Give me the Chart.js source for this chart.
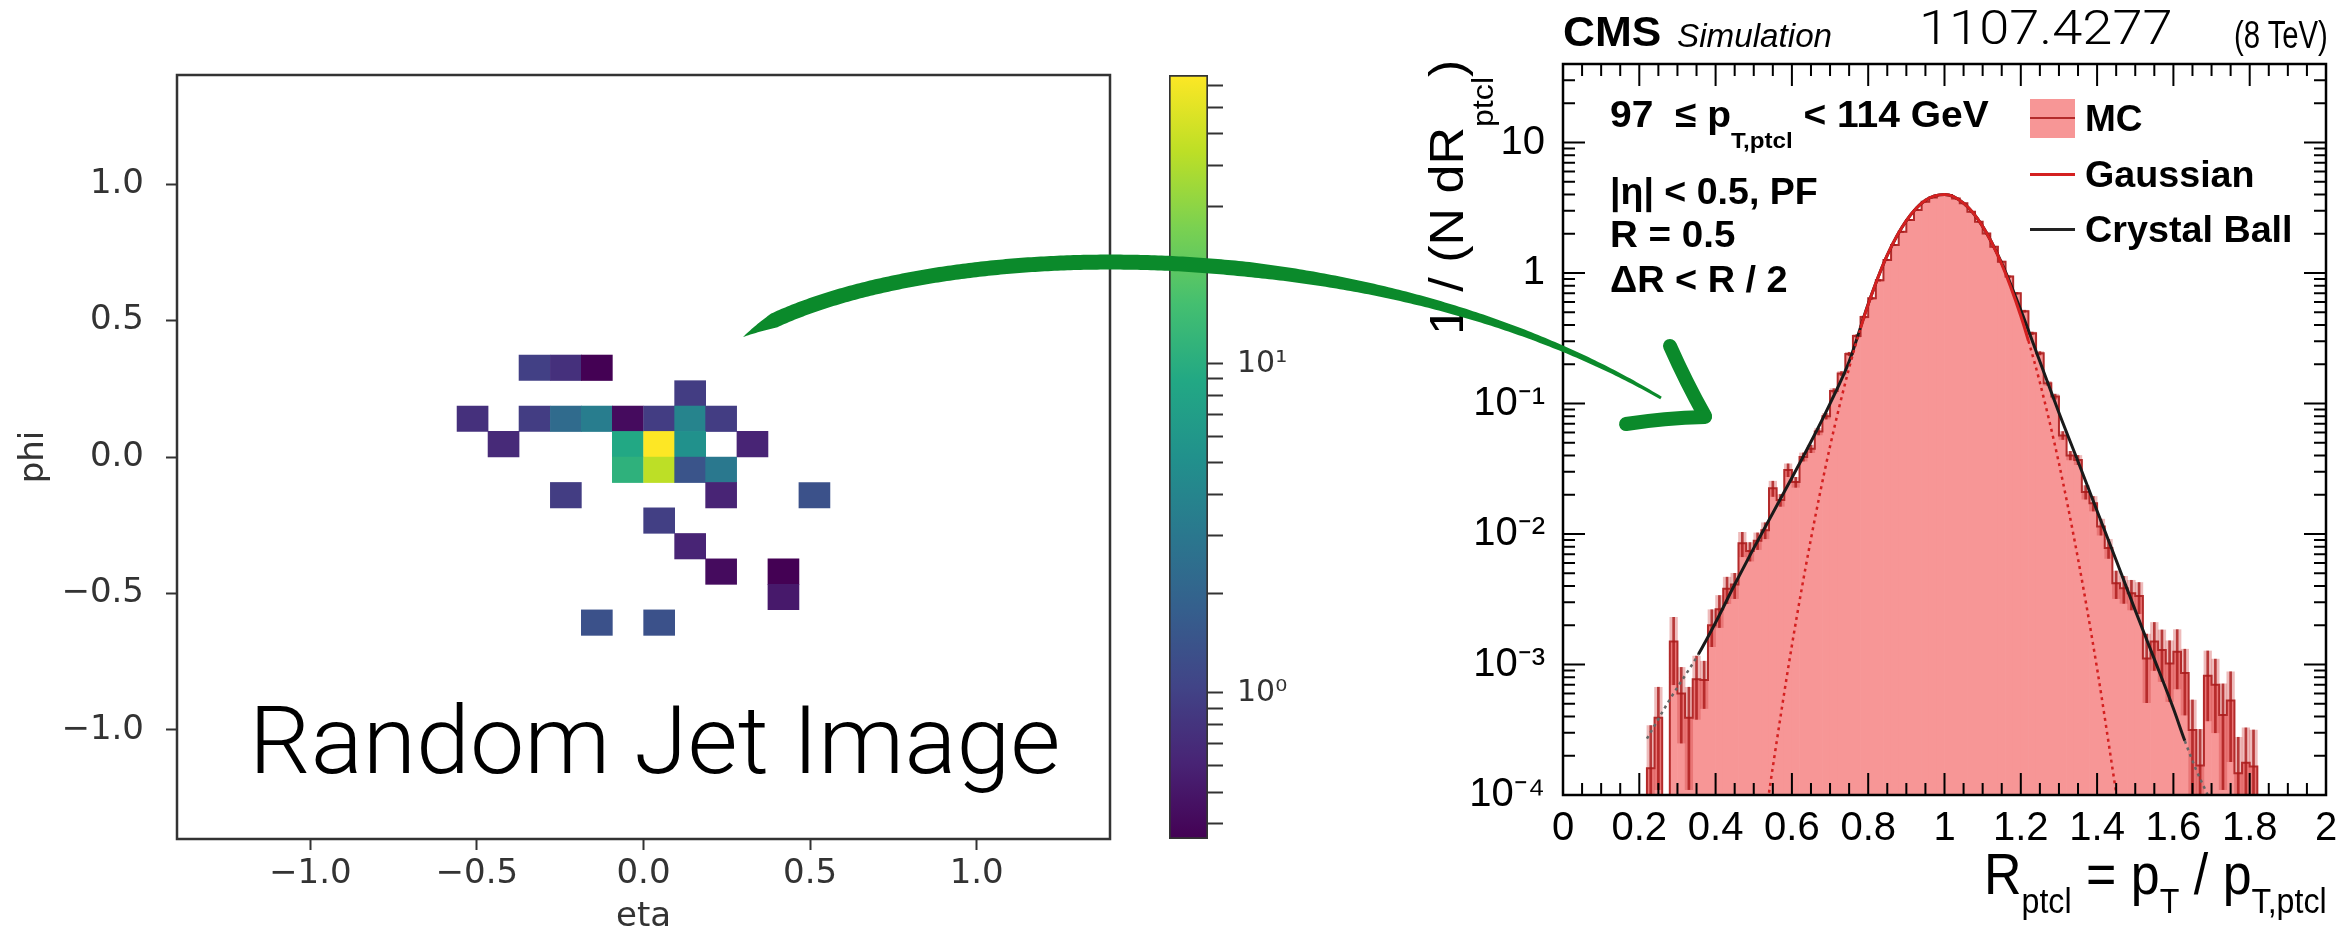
<!DOCTYPE html>
<html>
<head>
<meta charset="utf-8">
<script src="https://cdn.jsdelivr.net/npm/chart.js@4.4.0/dist/chart.umd.min.js"></script>
<style>
  html, body { margin: 0; padding: 0; background: #fff; }
  #page { position: relative; width: 2349px; height: 942px; overflow: hidden; background: #fff; }
  canvas { position: absolute; top: 0; }
  .txt { position: absolute; line-height: 1; white-space: nowrap; color: #000; transform-origin: 0 0; z-index: 5; }
  .root { font-family: 'Liberation Sans', Arial, Helvetica, sans-serif; }
  .b { font-weight: bold; }
  .thin { font-family: Roboto, Lato, 'Open Sans', sans-serif; font-weight: 300; }
  .sub { font-size: 0.62em; position: relative; top: 0.9em; }
  .sw { position: absolute; z-index: 5; }
</style>
</head>
<body>
<div id="page">
  <canvas id="heat" width="1150" height="942" style="left:0"></canvas>
  <canvas id="cbar" width="200" height="942" style="left:1150px"></canvas>
  <canvas id="resp" width="969" height="942" style="left:1380px"></canvas>

  <div class="txt thin" data-x="249" data-b="774" data-s="95" data-w="811">Random Jet Image</div>
  <div class="txt thin" data-x="1919" data-b="45" data-s="48" data-w="253">1107.4277</div>
  <div class="txt root b" data-x="1563" data-b="47" data-s="42" data-w="98">CMS</div>
  <div class="txt root" style="font-style:italic" data-x="1677" data-b="47" data-s="33" data-w="155">Simulation</div>
  <div class="txt root" data-x="2234" data-b="48" data-s="38" data-w="94">(8 TeV)</div>

  <div class="txt root b" data-x="1610" data-b="127" data-s="37" data-w="379">97&nbsp; ≤ p<span class="sub" style="top:0.95em">T,ptcl</span> &lt; 114 GeV</div>
  <div class="txt root b" data-x="1610" data-b="204" data-s="37" data-w="208">|η| &lt; 0.5, PF</div>
  <div class="txt root b" data-x="1610" data-b="247" data-s="37" data-w="125">R = 0.5</div>
  <div class="txt root b" data-x="1610" data-b="292" data-s="37" data-w="178">ΔR &lt; R / 2</div>

  <div class="sw" style="left:2030px;top:99px;width:45px;height:39px;background:#f79696"></div>
  <div class="sw" style="left:2030px;top:117px;width:45px;height:2px;background:#b32a2a"></div>
  <div class="sw" style="left:2030px;top:173px;width:45px;height:3px;background:#d42020"></div>
  <div class="sw" style="left:2030px;top:228px;width:45px;height:3px;background:#222"></div>
  <div class="txt root b" data-x="2085" data-b="131" data-s="37" data-w="58">MC</div>
  <div class="txt root b" data-x="2085" data-b="187" data-s="37" data-w="170">Gaussian</div>
  <div class="txt root b" data-x="2085" data-b="242" data-s="37" data-w="208">Crystal Ball</div>

  <div class="txt root" data-x="1984" data-b="894" data-s="58" data-w="343">R<span class="sub" style="top:0.55em">ptcl</span> = p<span class="sub" style="top:0.55em">T</span> / p<span class="sub" style="top:0.55em">T,ptcl</span></div>
  <div class="txt root" data-x="1464" data-b="335" data-s="48" data-w="275" data-rot="1">1 / (N dR<span class="sub" style="top:1em">ptcl</span>)</div>

  <canvas id="arrow" width="2349" height="942" style="left:0;z-index:10;pointer-events:none"></canvas>
</div>

<script>
Chart.defaults.font.family = "'DejaVu Sans', sans-serif";

// ---- jet image: pixels of a 30x30 grid over eta, phi in [-1.4, 1.4] ----
const cellEta = [-0.327, -0.233, -0.140, 0.140, -0.513, -0.327, -0.233, -0.140, -0.047, 0.047, 0.140, 0.233,
  -0.420, -0.047, 0.047, 0.140, 0.327, -0.047, 0.047, 0.140, 0.233, -0.233, 0.233, 0.513,
  0.047, 0.140, 0.233, 0.420, 0.420, -0.140, 0.047];
const cellPhi = [0.327, 0.327, 0.327, 0.233, 0.140, 0.140, 0.140, 0.140, 0.140, 0.140, 0.140, 0.140,
  0.047, 0.047, 0.047, 0.047, 0.047, -0.047, -0.047, -0.047, -0.047, -0.140, -0.140, -0.140,
  -0.233, -0.327, -0.420, -0.420, -0.513, -0.607, -0.607];
const cellPt = [0.98, 0.75, 0.36, 0.93, 0.75, 0.93, 2.32, 3.37, 0.42, 0.93, 3.96, 0.93,
  0.68, 8.85, 75.5, 5.18, 0.61, 11.0, 44.2, 1.43, 3.03, 0.93, 0.61, 1.36,
  0.96, 0.61, 0.42, 0.36, 0.52, 1.36, 1.36];
const etaTicks = [-1, -0.5, 0, 0.5, 1];
const phiTicks = [-1, -0.5, 0, 0.5, 1];
const cbarTicks = [0.4, 0.5, 0.6, 0.7, 0.8, 0.9, 1, 2, 3, 4, 5, 6, 7, 8, 9, 10, 20, 30, 40, 50, 60, 70];
const cbarLabelAt = [1, 10];
const cbarLabels = ['10\u2070', '10\u00b9'];

// ---- response histogram, bins of 0.02 starting at 0.22 ----
const histStart = 0.22;
const binW = 0.02;
const histValues = [
  1.6e-4, 3.9e-4, null, 1.5e-3, 6.0e-4, 3.9e-4, 7.7e-4, 7.6e-4, 2.0e-3, 2.65e-3,
  3.8e-3, 4.1e-3, 8.5e-3, 7.4e-3, 8.9e-3, 1.07e-2, 2.24e-2, 1.82e-2, 3.1e-2, 2.5e-2,
  3.9e-2, 4.5e-2, 6.1e-2, 8.0e-2, 0.125,
  0.17, 0.24, 0.33, 0.46, 0.64, 0.88, 1.26, 1.64, 2.07, 2.55,
  3.04, 3.52, 3.80, 3.96, 3.96, 3.73, 3.42, 2.95, 2.47, 2.01,
  1.59, 1.22, 0.94, 0.70, 0.51, 0.345, 0.243,
  0.143, 0.113, 0.057, 0.040, 0.037, 0.021, 0.0172, 0.0114, 0.0078, 0.0042,
  3.84e-3, 3.52e-3, 3.35e-3, 1.11e-3, 1.5e-3, 1.29e-3, 1.02e-3, 1.25e-3, 8.6e-4, 3.15e-4,
  1.68e-4, 8.2e-4, 7.0e-4, 4.1e-4, 5.3e-4, 1.47e-4, 1.77e-4, 1.65e-4
];
const histErr = [
  1.8e-4, 2.8e-4, 0, 8e-4, 3.5e-4, 2.8e-4, 3.9e-4, 3.0e-4, 6.3e-4, 7.3e-4,
  8.7e-4, 9e-4, 1.8e-3, 1.2e-3, 1.3e-3, 1.5e-3, 3e-3, 1.9e-3, 3.5e-3, 2.2e-3,
  2.8e-3, 3e-3, 3.5e-3, 4e-3, 5e-3,
  0.006, 0.007, 0.008, 0.009, 0.011, 0.013, 0.015, 0.017, 0.019, 0.021,
  0.023, 0.025, 0.026, 0.027, 0.027, 0.026, 0.025, 0.023, 0.021, 0.019,
  0.017, 0.015, 0.013, 0.011, 0.009, 0.008, 0.007,
  5e-3, 5e-3, 4e-3, 3e-3, 3e-3, 2.5e-3, 2.2e-3, 1.6e-3, 1.3e-3, 1e-3,
  9e-4, 9e-4, 9e-4, 6e-4, 6e-4, 5.5e-4, 5e-4, 6e-4, 4.5e-4, 2.2e-4,
  1.5e-4, 4.5e-4, 4e-4, 3e-4, 3.5e-4, 1.3e-4, 1.5e-4, 1.5e-4
];
const gausX = [0.54, 0.55, 0.60, 0.65, 0.70, 0.75, 0.78, 0.80, 0.85, 0.90, 0.95, 1.00, 1.05, 1.10, 1.15, 1.20, 1.22, 1.25, 1.30, 1.35, 1.40, 1.45];
const gausY = [1.04e-4, 1.64e-4, 1.40e-3, 9.2e-3, 0.047, 0.187, 0.378, 0.575, 1.37, 2.52, 3.61, 4.0, 3.43, 2.28, 1.17, 0.469, 0.302, 0.145, 0.0348, 0.00645, 9.3e-4, 1.04e-4];
const gausRange = [0.78, 1.22];
const cbX = [0.22, 0.28, 0.355, 0.40, 0.45, 0.50, 0.55, 0.60, 0.65, 0.70, 0.75, 0.80, 0.85, 0.90, 0.95, 1.00, 1.05, 1.10, 1.15, 1.20, 1.25, 1.30, 1.35, 1.40, 1.45, 1.50, 1.55, 1.60, 1.63, 1.66, 1.69];
const cbY = [2.7e-4, 5.4e-4, 1.2e-3, 2.1e-3, 4.1e-3, 7.8e-3, 1.45e-2, 2.7e-2, 5.1e-2, 0.10, 0.21, 0.58, 1.37, 2.52, 3.61, 4.0, 3.43, 2.28, 1.19, 0.52, 0.21, 0.085, 0.036, 0.015, 6.3e-3, 2.6e-3, 1.1e-3, 4.6e-4, 2.6e-4, 1.55e-4, 1.0e-4];
const cbRange = [0.355, 1.63];
const xTickVals = [0, 0.2, 0.4, 0.6, 0.8, 1, 1.2, 1.4, 1.6, 1.8, 2];
const xTickLabels = ['0', '0.2', '0.4', '0.6', '0.8', '1', '1.2', '1.4', '1.6', '1.8', '2'];
const yTickVals = [1e-4, 1e-3, 1e-2, 1e-1, 1, 10];
const yTickLabels = ['10\u207b\u2074', '10\u207b\u00b3', '10\u207b\u00b2', '10\u207b\u00b9', '1', '10'];

// viridis colour map
const viridisStops = ['#440154', '#482475', '#414487', '#355f8d', '#2a788e', '#21918c', '#22a884', '#44bf70', '#7ad151', '#bddf26', '#fde725'];
function hexRgb(h) { return [1, 3, 5].map(i => parseInt(h.substr(i, 2), 16)); }
function viridis(t) {
  t = Math.min(1, Math.max(0, t));
  const p = t * 10, i = Math.min(9, Math.floor(p)), f = p - i;
  const a = hexRgb(viridisStops[i]), b = hexRgb(viridisStops[i + 1]);
  return 'rgb(' + a.map((c, k) => Math.round(c + (b[k] - c) * f)).join(',') + ')';
}
const vmin = Math.min(...cellPt), vmax = Math.max(...cellPt);
const lnorm = v => (Math.log10(v) - Math.log10(vmin)) / (Math.log10(vmax) - Math.log10(vmin));
const pix = 2.8 / 30;
const fmtTick = v => (v < 0 ? '\u2212' : '') + Math.abs(v).toFixed(1);

const heatFrame = {
  id: 'heatFrame',
  afterDatasetsDraw(chart) {
    const { ctx, chartArea: a } = chart;
    ctx.save();
    ctx.strokeStyle = '#333';
    ctx.lineWidth = 2.5;
    ctx.strokeRect(a.left, a.top, a.right - a.left, a.bottom - a.top);
    ctx.restore();
  }
};

new Chart(document.getElementById('heat'), {
  type: 'bar',
  data: {
    datasets: [{
      data: cellEta.map((e, i) => ({ x: e, y: [cellPhi[i] - pix / 2, cellPhi[i] + pix / 2] })),
      backgroundColor: cellPt.map(v => viridis(lnorm(v))),
      borderWidth: 0,
      barPercentage: 1,
      categoryPercentage: 1,
      grouped: false
    }]
  },
  options: {
    responsive: false,
    animation: false,
    layout: { padding: { top: 75, right: 40, bottom: 0, left: 0 } },
    plugins: { legend: { display: false }, tooltip: { enabled: false } },
    scales: {
      x: {
        type: 'linear', min: -1.4, max: 1.4, offset: false,
        afterBuildTicks: s => { s.ticks = etaTicks.map(v => ({ value: v })); },
        afterFit: s => { s.height = 103; },
        ticks: { callback: fmtTick, color: '#333', font: { size: 34 }, padding: 4, maxRotation: 0, autoSkip: false },
        grid: { drawOnChartArea: false, tickLength: 11, tickWidth: 2, tickColor: '#333', offset: false },
        border: { display: false },
        title: { display: true, text: 'eta', color: '#333', font: { size: 34 }, padding: { top: 0, bottom: 4 } }
      },
      y: {
        type: 'linear', min: -1.4, max: 1.4,
        afterBuildTicks: s => { s.ticks = phiTicks.map(v => ({ value: v })); },
        afterFit: s => { s.width = 177; },
        ticks: { callback: fmtTick, color: '#333', font: { size: 34 }, padding: 22, autoSkip: false },
        grid: { drawOnChartArea: false, tickLength: 11, tickWidth: 2, tickColor: '#333' },
        border: { display: false },
        title: { display: true, text: 'phi', color: '#333', font: { size: 34 }, padding: { top: 14, bottom: 0 } }
      }
    }
  },
  plugins: [heatFrame]
});

// colour bar
new Chart(document.getElementById('cbar'), {
  type: 'bar',
  data: {
    labels: [''],
    datasets: [{
      data: [[vmin, vmax]],
      backgroundColor: c => {
        const a = c.chart.chartArea;
        if (!a) return '#21918c';
        const g = c.chart.ctx.createLinearGradient(0, a.bottom, 0, a.top);
        viridisStops.forEach((col, i) => g.addColorStop(i / 10, col));
        return g;
      },
      borderColor: '#333',
      borderWidth: 2,
      borderSkipped: false,
      barPercentage: 1,
      categoryPercentage: 1
    }]
  },
  options: {
    responsive: false,
    animation: false,
    layout: { padding: { top: 75, right: 0, bottom: 103, left: 19 } },
    plugins: { legend: { display: false }, tooltip: { enabled: false } },
    scales: {
      x: { display: false },
      y: {
        type: 'logarithmic', position: 'right', min: vmin, max: vmax,
        afterBuildTicks: s => { s.ticks = cbarTicks.map(v => ({ value: v })); },
        afterFit: s => { s.width = 142; },
        ticks: {
          callback: v => { const k = cbarLabelAt.indexOf(v); return k >= 0 ? cbarLabels[k] : ''; },
          autoSkip: false, color: '#333', font: { size: 30 }, padding: 14
        },
        grid: { drawOnChartArea: false, tickLength: 15, tickWidth: 2, tickColor: '#333' },
        border: { display: false }
      }
    }
  }
});

// ---- ROOT style frame with inward ticks on all sides ----
const rootFrame = {
  id: 'rootFrame',
  afterDraw(chart) {
    const { ctx, chartArea: a, scales: { x, y } } = chart;
    ctx.save();
    ctx.strokeStyle = '#000';
    ctx.lineWidth = 2;
    ctx.beginPath();
    for (let k = 0; k <= 40; k++) {
      const v = k * 0.05, px = x.getPixelForValue(v);
      const len = k % 4 === 0 ? 22 : 12;
      ctx.moveTo(px, a.bottom); ctx.lineTo(px, a.bottom - len);
      ctx.moveTo(px, a.top); ctx.lineTo(px, a.top + len);
    }
    for (let d = -4; d <= 1; d++) {
      for (let m = 1; m <= 9; m++) {
        const v = m * Math.pow(10, d);
        if (v > y.max) break;
        const py = y.getPixelForValue(v);
        const len = m === 1 ? 22 : 12;
        ctx.moveTo(a.left, py); ctx.lineTo(a.left + len, py);
        ctx.moveTo(a.right, py); ctx.lineTo(a.right - len, py);
      }
    }
    ctx.stroke();
    ctx.lineWidth = 2.5;
    ctx.strokeRect(a.left, a.top, a.right - a.left, a.bottom - a.top);
    ctx.restore();
  }
};

const yFloor = 1e-6;
const histX = histValues.map((_, i) => histStart + (i + 0.5) * binW);
const outline = [{ x: histStart - binW, y: yFloor }];
histValues.forEach((v, i) => outline.push({ x: histStart + i * binW, y: v === null ? yFloor : v }));
outline.push({ x: histStart + histValues.length * binW, y: yFloor });
const outside = (s, r) => s.p0.parsed.x < r[0] - 1e-6 || s.p1.parsed.x > r[1] + 1e-6;

new Chart(document.getElementById('resp'), {
  type: 'bar',
  data: {
    datasets: [
      {
        type: 'line', label: 'Gaussian', order: 0,
        data: gausX.map((x, i) => ({ x, y: gausY[i] })),
        borderColor: '#d42020', borderWidth: 3, pointRadius: 0, cubicInterpolationMode: 'monotone',
        segment: {
          borderDash: s => outside(s, gausRange) ? [3, 4] : undefined,
          borderWidth: s => outside(s, gausRange) ? 2.5 : 3
        }
      },
      {
        type: 'line', label: 'Crystal Ball', order: 1,
        data: cbX.map((x, i) => ({ x, y: cbY[i] })),
        borderColor: '#1a1a1a', borderWidth: 3, pointRadius: 0, cubicInterpolationMode: 'monotone',
        segment: {
          borderDash: s => outside(s, cbRange) ? [3, 4] : undefined,
          borderColor: s => outside(s, cbRange) ? '#666' : '#1a1a1a',
          borderWidth: s => outside(s, cbRange) ? 2.5 : 3
        }
      },
      {
        type: 'bar', label: 'err', order: 2, grouped: false, barThickness: 2,
        data: histValues.map((v, i) => ({ x: histX[i], y: v === null || !histErr[i] ? null : [Math.max(v - histErr[i], yFloor), v + histErr[i]] })),
        backgroundColor: 'rgba(170,25,25,0.8)', borderWidth: 0
      },
      {
        type: 'line', label: 'outline', order: 3,
        data: outline, stepped: true,
        borderColor: '#b32a2a', borderWidth: 2, pointRadius: 0
      },
      {
        type: 'bar', label: 'errbox', order: 4, grouped: false, barPercentage: 1, categoryPercentage: 1,
        data: histValues.map((v, i) => ({ x: histX[i], y: v === null || !histErr[i] ? null : [Math.max(v - histErr[i], yFloor), v + histErr[i]] })),
        backgroundColor: 'rgba(205,60,60,0.35)', borderWidth: 0
      },
      {
        type: 'bar', label: 'MC', order: 5, grouped: false, barPercentage: 1, categoryPercentage: 1,
        data: histValues.map((v, i) => ({ x: histX[i], y: v })),
        backgroundColor: '#f79696', borderWidth: 0
      }
    ]
  },
  options: {
    responsive: false,
    animation: false,
    layout: { padding: { top: 64, right: 23, bottom: 0, left: 0 } },
    plugins: { legend: { display: false }, tooltip: { enabled: false } },
    scales: {
      x: {
        type: 'linear', min: 0, max: 2, offset: false,
        afterBuildTicks: s => { s.ticks = xTickVals.map(v => ({ value: v })); },
        afterFit: s => { s.height = 147; },
        ticks: { callback: (v, i) => xTickLabels[i], color: '#000', font: { family: "'Liberation Sans', Arial", size: 40 }, padding: 2, maxRotation: 0, autoSkip: false },
        grid: { display: false, offset: false },
        border: { display: false }
      },
      y: {
        type: 'logarithmic', min: 1e-4, max: 40,
        afterBuildTicks: s => { s.ticks = yTickVals.map(v => ({ value: v })); },
        afterFit: s => { s.width = 183; },
        ticks: { callback: (v, i) => yTickLabels[i], color: '#000', font: { family: "'Liberation Sans', Arial", size: 40 }, padding: 10, autoSkip: false },
        grid: { display: false },
        border: { display: false }
      }
    }
  },
  plugins: [rootFrame]
});

// ---- text placement: baseline positions, squeezed to the widths seen in the picture ----
document.querySelectorAll('.txt').forEach(el => {
  const s = +el.dataset.s, b = +el.dataset.b, x = +el.dataset.x, w = +el.dataset.w;
  el.style.fontSize = s + 'px';
  const k = w / el.offsetWidth;
  if (el.dataset.rot) {
    el.style.left = (x - 0.85 * s) + 'px';
    el.style.top = b + 'px';
    el.style.transform = 'rotate(-90deg) scaleX(' + k + ')';
  } else {
    el.style.left = x + 'px';
    el.style.top = (b - 0.85 * s) + 'px';
    el.style.transform = 'scaleX(' + k + ')';
  }
});

// ---- hand drawn green arrow ----
(function drawArrow() {
  const g = document.getElementById('arrow').getContext('2d');
  const P = [[743, 337], [900, 240], [1350, 215], [1661, 398]];
  const N = 300, up = [], dn = [];
  for (let i = 0; i <= N; i++) {
    const t = i / N, u = 1 - t;
    const bx = k => u * u * u * P[0][k] + 3 * u * u * t * P[1][k] + 3 * u * t * t * P[2][k] + t * t * t * P[3][k];
    const dv = k => 3 * u * u * (P[1][k] - P[0][k]) + 6 * u * t * (P[2][k] - P[1][k]) + 3 * t * t * (P[3][k] - P[2][k]);
    const x = bx(0), y = bx(1), dx = dv(0), dy = dv(1), len = Math.hypot(dx, dy);
    const nx = -dy / len, ny = dx / len;
    let w = 15 * Math.min(1, t / 0.06);
    if (t > 0.6) w = 15 - 12 * (t - 0.6) / 0.4;
    up.push([x + nx * w / 2, y + ny * w / 2]);
    dn.push([x - nx * w / 2, y - ny * w / 2]);
  }
  g.fillStyle = '#0b8a2b';
  g.beginPath();
  up.forEach((p, i) => i ? g.lineTo(p[0], p[1]) : g.moveTo(p[0], p[1]));
  dn.reverse().forEach(p => g.lineTo(p[0], p[1]));
  g.closePath();
  g.fill();
  g.strokeStyle = '#0b8a2b';
  g.lineCap = 'round';
  g.lineJoin = 'round';
  g.lineWidth = 14;
  g.beginPath();
  g.moveTo(1670, 346);
  g.quadraticCurveTo(1686, 382, 1705, 416);
  g.stroke();
  g.beginPath();
  g.moveTo(1626, 424);
  g.quadraticCurveTo(1664, 418, 1705, 417);
  g.stroke();
})();
</script>
</body>
</html>
